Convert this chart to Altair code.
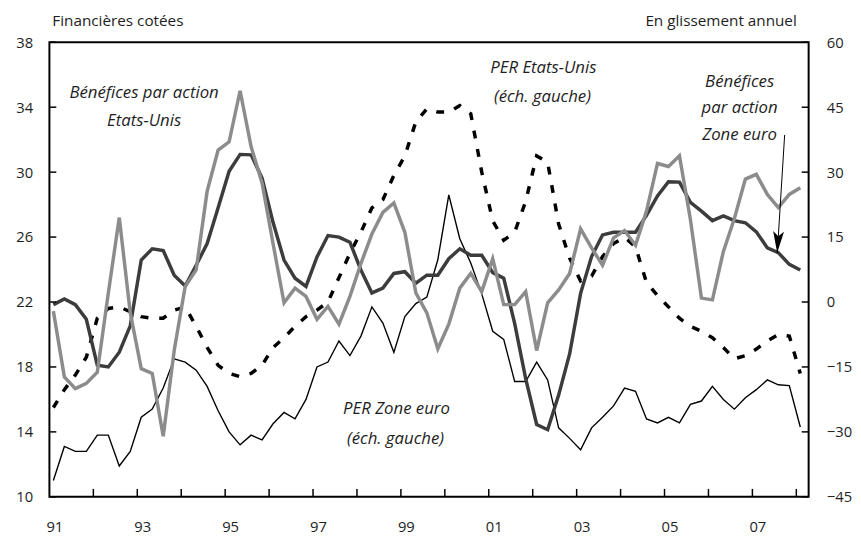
import altair as alt
import pandas as pd

# ---------------- data ----------------
first_quarter = 1991.09  # position of 1991Q1 on the time axis; one point per quarter

# PER Zone euro (left scale)
per_zone_euro = [11.0, 13.1, 12.8, 12.8, 13.8, 13.8, 11.9, 12.8, 14.9, 15.4,
                 16.7, 18.5, 18.3, 17.8, 16.8, 15.3, 14.0, 13.2, 13.8, 13.5,
                 14.5, 15.2, 14.8, 16.0, 18.0, 18.3, 19.6, 18.7, 19.9, 21.7,
                 20.7, 18.9, 21.1, 21.9, 22.3, 24.6, 28.6, 25.9, 24.4, 22.5,
                 20.2, 19.7, 17.1, 17.1, 18.3, 17.2, 14.25, 13.6, 12.9, 14.25,
                 14.9, 15.6, 16.7, 16.5, 14.8, 14.55, 14.9, 14.55, 15.7, 15.9,
                 16.8, 16.0, 15.4, 16.1, 16.6, 17.2, 16.9, 16.85, 14.3]

# PER Etats-Unis (left scale)
per_etats_unis = [15.5, 16.6, 17.5, 18.6, 21.0, 21.6, 21.7, 21.4, 21.1, 21.0,
                  21.0, 21.5, 21.7, 20.5, 19.2, 18.1, 17.6, 17.4, 17.6, 18.1,
                  19.2, 19.8, 20.5, 21.1, 21.5, 22.0, 23.5, 25.0, 26.3, 27.8,
                  28.3, 29.8, 31.0, 33.1, 33.9, 33.7, 33.7, 34.1, 33.6, 30.0,
                  27.0, 25.8, 26.3, 28.2, 31.0, 30.6, 26.8, 24.7, 23.3, 23.6,
                  24.8, 25.6, 26.0, 25.4, 23.2, 22.4, 21.7, 21.0, 20.5, 20.2,
                  19.8, 19.2, 18.5, 18.7, 19.1, 19.6, 20.0, 19.9, 17.6]

# Bénéfices par action Etats-Unis (right scale, % yoy)
bpa_etats_unis = [-2.1, -17.3, -20.0, -18.8, -16.2, 2.0, 19.5, -2.5, -15.4, -16.5,
                  -31.0, -11.2, 3.6, 7.4, 25.6, 35.1, 37.0, 48.8, 35.9, 27.5,
                  13.5, -0.2, 3.2, 1.3, -4.0, -1.0, -5.1, 1.3, 8.9, 15.7,
                  20.7, 22.9, 16.1, 2.1, -2.5, -10.8, -5.1, 3.2, 6.6, 2.4,
                  10.0, -0.6, -0.6, 2.4, -11.2, -0.2, 2.8, 6.6, 16.9, 12.5,
                  8.5, 14.8, 16.5, 13.1, 21.0, 32.0, 31.3, 33.8, 19.0, 0.9,
                  0.5, 11.7, 19.3, 28.4, 29.5, 24.85, 21.8, 24.85, 26.4]

# Bénéfices par action Zone euro (right scale, % yoy)
bpa_zone_euro = [-0.6, 0.7, -0.6, -4.0, -14.6, -15.0, -11.6, -5.5, 9.7, 12.3,
                 11.9, 6.2, 3.7, 8.5, 13.5, 21.8, 30.2, 34.1, 34.0, 28.6,
                 18.4, 9.7, 5.5, 3.6, 10.4, 15.35, 15.0, 13.8, 7.4, 2.1,
                 3.2, 6.6, 7.0, 4.35, 6.2, 6.2, 10.0, 12.3, 10.8, 10.8,
                 6.8, 5.5, -5.0, -17.7, -28.3, -29.5, -21.5, -12.0, 2.0, 10.5,
                 15.5, 16.1, 16.1, 16.1, 20.0, 24.5, 27.8, 27.7, 23.0, 21.0,
                 18.8, 19.9, 18.8, 18.3, 16.2, 12.5, 11.4, 8.7, 7.4]

left_ticks = [10, 14, 18, 22, 26, 30, 34, 38]
right_ticks = [-45, -30, -15, 0, 15, 30, 45, 60]
year_ticks = list(range(1991, 2009))
inner_year_ticks = list(range(1992, 2009))

annot_text = ["Bénéfices par action", "Etats-Unis",
              "PER Etats-Unis", "(éch. gauche)",
              "Bénéfices", "par action", "Zone euro",
              "PER Zone euro", "(éch. gauche)"]
annot_px = [96, 96, 501, 500, 700, 700, 700, 352, 351]
annot_py = [52, 80, 26, 56, 40, 67, 94, 372, 402]

# arrow pointing to the euro-area EPS line (time, right-scale value)
arrow_t, arrow_v = [2007.734], [38.6]
arrow_t2, arrow_v2 = [2007.566], [11.25]
head_t, head_v = [2007.58], [13.8]

# ---------------- chart ----------------
n = len(per_zone_euro)
t = [first_quarter + 0.25 * i for i in range(n)]
df = pd.DataFrame({"t": t, "per_ez": per_zone_euro, "per_us": per_etats_unis,
                   "bpa_us": bpa_etats_unis, "bpa_ez": bpa_zone_euro})

W, H = 770, 461
FONT = "Open Sans"
TXT = "#1e1e1e"
XS = alt.Scale(domain=[1991, 2008.28], nice=False, zero=False)
LS = alt.Scale(domain=[10, 38], nice=False, zero=False)
RS = alt.Scale(domain=[-45, 60], nice=False, zero=False)

x_axis = alt.Axis(values=year_ticks,
                  labelExpr="datum.value % 2 == 1 ? substring(toString(datum.value), 2, 4) : ''",
                  ticks=False, tickSize=0, domain=False, grid=False,
                  labelPadding=23, labelOffset=5, labelFlush=False, labelOverlap=False,
                  labelFontSize=15, labelFont=FONT, labelColor=TXT, title=None)
left_axis = alt.Axis(values=left_ticks, ticks=False, tickSize=0, domain=False, grid=False,
                     labelPadding=17, labelFontSize=15, labelFont=FONT, labelColor=TXT,
                     title=None, labelFlush=False, labelOverlap=False)
right_axis = alt.Axis(orient="right", values=right_ticks, ticks=False, tickSize=0,
                      domain=False, grid=False, labelPadding=18, labelFontSize=15,
                      labelFont=FONT, labelColor=TXT, title=None, labelFlush=False,
                      labelOverlap=False)

X = alt.X("t:Q", scale=XS, axis=x_axis)
base = alt.Chart(df)

dashed = base.mark_line(color="black", strokeWidth=3.5, strokeDash=[8, 11]).encode(
    x=X, y=alt.Y("per_us:Q", scale=LS, axis=left_axis))
thin = base.mark_line(color="black", strokeWidth=1.4).encode(
    x=X, y=alt.Y("per_ez:Q", scale=LS, axis=None))
dark = base.mark_line(color="#3c3c3c", strokeWidth=3.5).encode(
    x=X, y=alt.Y("bpa_ez:Q", scale=RS, axis=right_axis))
light = base.mark_line(color="#8c8c8c", strokeWidth=3.5).encode(
    x=X, y=alt.Y("bpa_us:Q", scale=RS, axis=None))

lt = alt.Chart(pd.DataFrame({"v": left_ticks})).mark_rule(color="black", strokeWidth=1.5).encode(
    y=alt.Y("v:Q", scale=LS, axis=None), x=alt.value(0), x2=alt.value(7))
rt = alt.Chart(pd.DataFrame({"v": right_ticks})).mark_rule(color="black", strokeWidth=1.5).encode(
    y=alt.Y("v:Q", scale=RS, axis=None), x=alt.value(W - 7), x2=alt.value(W))
bt = alt.Chart(pd.DataFrame({"t": inner_year_ticks})).mark_rule(color="black", strokeWidth=1.5).encode(
    x=X, y=alt.value(H), y2=alt.value(H - 8))

arrow_df = pd.DataFrame({"t": arrow_t, "v": arrow_v, "t2": arrow_t2, "v2": arrow_v2})
arrow = alt.Chart(arrow_df).mark_rule(color="black", strokeWidth=1).encode(
    x=X, x2="t2:Q",
    y=alt.Y("v:Q", scale=RS, axis=None), y2="v2:Q")
head = alt.Chart(pd.DataFrame({"t": head_t, "v": head_v})).mark_point(
    shape="M0,1L-0.5,-1L0,-0.55L0.5,-1Z", filled=True, size=484, angle=3.6,
    color="black", opacity=1, strokeWidth=0).encode(
    x=X, y=alt.Y("v:Q", scale=RS, axis=None))

annots = alt.Chart(pd.DataFrame({"text": annot_text, "px": annot_px, "py": annot_py})).mark_text(
    font=FONT, fontStyle="italic", fontSize=17, color=TXT, align="center", baseline="middle").encode(
    x=alt.X("px:Q", scale=None), y=alt.Y("py:Q", scale=None), text="text:N")

title_l = alt.Chart(pd.DataFrame({"s": ["Financières cotées"]})).mark_text(
    font=FONT, fontSize=15.5, color=TXT, align="left", baseline="middle").encode(
    x=alt.value(3), y=alt.value(-21), text="s:N")
title_r = alt.Chart(pd.DataFrame({"s": ["En glissement annuel"]})).mark_text(
    font=FONT, fontSize=15.5, color=TXT, align="right", baseline="middle").encode(
    x=alt.value(758), y=alt.value(-21), text="s:N")

chart = alt.layer(
    dashed, thin, dark, light, lt, rt, bt, arrow, head, annots, title_l, title_r
).resolve_scale(y="independent").properties(
    width=W, height=H,
    autosize=alt.AutoSizeParams(type="none"),
    padding={"left": 42, "top": 31, "right": 45, "bottom": 37},
    background="white",
).configure_view(stroke="black", strokeWidth=2)

chart.save("out.html", embed_options={"renderer": "svg", "actions": False})
